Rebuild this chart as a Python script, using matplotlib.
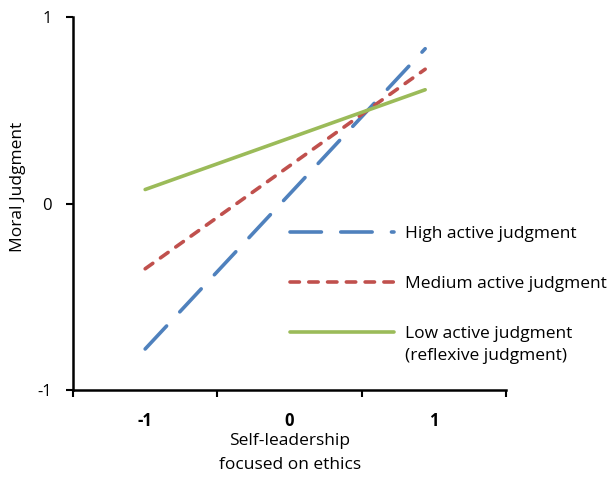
import matplotlib
matplotlib.use("Agg")
import matplotlib.pyplot as plt
import numpy as np

# simple slopes chart
x_points = [-1, 0.94]
high_active = [-0.78, 0.83]
medium_active = [-0.35, 0.72]
low_active = [0.075, 0.61]

series_labels = ["High active judgment", "Medium active judgment", "Low active judgment"]
x_tick_labels = ["-1", "0", "1"]
y_tick_labels = ["-1", "0", "1"]

plt.rcParams['font.family'] = ['Open Sans', 'DejaVu Sans']

fig = plt.figure(figsize=(6.16, 4.82), dpi=100)
ax = fig.add_axes([73 / 616, 1 - 390 / 482, (506 - 73) / 616, (390 - 17) / 482])

lw = 2.6
ax.plot(x_points, high_active, color="#4F81BD", lw=lw, dash_capstyle="round",
        dashes=(8.7, 5.35), label=series_labels[0])
ax.plot(x_points, medium_active, color="#C0504D", lw=lw, dash_capstyle="round",
        dashes=(2.6, 2.6), label=series_labels[1])
ax.plot(x_points, low_active, color="#9BBB59", lw=lw, solid_capstyle="round",
        label=series_labels[2])

ax.set_xlim(-1.5, 1.5)
ax.set_ylim(-1, 1)
ax.set_xticks([-1, 0, 1])
ax.set_xticklabels(x_tick_labels, fontsize=12, fontweight="bold")
ax.set_xticks([-1.5, -0.5, 0.5, 1.5], minor=True)
ax.tick_params(axis="x", which="major", length=0, pad=16)
ax.tick_params(axis="x", which="minor", length=5, width=1.5, direction="out")
ax.set_yticks([-1, 0, 1])
ax.set_yticklabels(y_tick_labels, fontsize=12)
ax.tick_params(axis="y", length=5, width=1.5, direction="out", pad=10)

for side in ["top", "right"]:
    ax.spines[side].set_visible(False)
for side in ["left", "bottom"]:
    ax.spines[side].set_linewidth(1.8)

fig.text(18 / 616, 1 - 187 / 482, "Moral Judgment", rotation=90,
         ha="center", va="center", fontsize=12.5)
fig.text(290 / 616, 1 - 453 / 482, "Self-leadership\nfocused on ethics",
         ha="center", va="center", fontsize=12.5, linespacing=1.6)

leg = ax.legend(loc="upper left", bbox_to_anchor=((290 - 73) / 433, (390 - 226) / 373),
                frameon=False, fontsize=12.5, handlelength=6.0, handletextpad=0.6,
                labelspacing=1.95, borderaxespad=0, borderpad=0)
fig.text(405 / 616, 1 - 356 / 482, "(reflexive judgment)", ha="left", va="center",
         fontsize=12.5)

fig.savefig("out.png", dpi=100)
